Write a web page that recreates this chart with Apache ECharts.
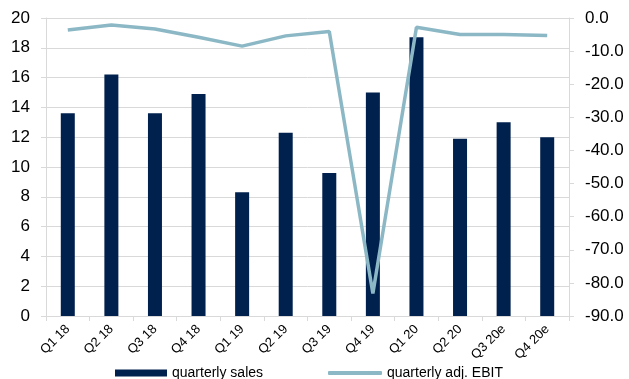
<!DOCTYPE html>
<html>
<head>
<meta charset="utf-8">
<script src="https://cdn.jsdelivr.net/npm/echarts@6/dist/echarts.min.js"></script>
<style>
  html, body { margin: 0; padding: 0; background: #fff; }
  #chart { width: 629px; height: 379px; }
</style>
</head>
<body>
<div id="chart"></div>
<script>
// Quarterly sales (left axis) and adjusted EBIT (right axis)
const quarters = ['Q1 18', 'Q2 18', 'Q3 18', 'Q4 18', 'Q1 19', 'Q2 19', 'Q3 19', 'Q4 19', 'Q1 20', 'Q2 20', 'Q3 20e', 'Q4 20e'];
const quarterlySales = [13.6, 16.2, 13.6, 14.9, 8.3, 12.3, 9.6, 15.0, 18.7, 11.9, 13.0, 12.0];
const quarterlyEbit = [-3.6, -2.1, -3.3, -5.8, -8.5, -5.4, -4.1, -83.2, -2.8, -5.0, -5.0, -5.3];
const salesTicks = { min: 0, max: 20, interval: 2 };
const ebitTicks = { min: -90, max: 0, interval: 10 };

const font = '"Liberation Sans", Arial, sans-serif';
const gridColor = '#d9d9d9';
const barColor = '#00204e';
const lineColor = '#8cb8c6';

const chart = echarts.init(document.getElementById('chart'));
chart.setOption({
  animation: false,
  grid: { left: 46, right: 60, top: 18, bottom: 63 },
  legend: [
    {
      data: ['quarterly sales'],
      left: 110, top: 361,
      itemWidth: 52, itemHeight: 7,
      textStyle: { fontFamily: font, fontSize: 14, color: '#000' },
      icon: 'rect'
    },
    {
      data: [{ name: 'quarterly adj. EBIT', itemStyle: { color: lineColor } }],
      left: 323, top: 361,
      itemWidth: 54, itemHeight: 4,
      textStyle: { fontFamily: font, fontSize: 14, color: '#000' },
      icon: 'roundRect'
    }
  ],
  xAxis: {
    type: 'category',
    data: quarters,
    boundaryGap: true,
    axisLine: { lineStyle: { color: gridColor, width: 1 } },
    axisTick: { show: true, length: 5, lineStyle: { color: gridColor } },
    axisLabel: { rotate: 45, fontFamily: font, fontSize: 13, color: '#000', margin: 11 }
  },
  yAxis: [
    {
      type: 'value',
      min: salesTicks.min, max: salesTicks.max, interval: salesTicks.interval,
      axisLine: { show: true, lineStyle: { color: gridColor } },
      axisTick: { show: true, length: 5, lineStyle: { color: gridColor } },
      splitLine: { lineStyle: { color: gridColor, width: 1 } },
      axisLabel: { fontFamily: font, fontSize: 17, color: '#000', margin: 16 }
    },
    {
      type: 'value',
      min: ebitTicks.min, max: ebitTicks.max, interval: ebitTicks.interval,
      position: 'right',
      axisLine: { show: true, lineStyle: { color: gridColor } },
      axisTick: { show: true, length: 5, lineStyle: { color: gridColor } },
      splitLine: { show: false },
      axisLabel: {
        fontFamily: font, fontSize: 17, color: '#000', margin: 16,
        formatter: v => v.toFixed(1)
      }
    }
  ],
  series: [
    {
      name: 'quarterly sales',
      type: 'bar',
      data: quarterlySales,
      yAxisIndex: 0,
      barWidth: 14,
      itemStyle: { color: barColor }
    },
    {
      name: 'quarterly adj. EBIT',
      type: 'line',
      data: quarterlyEbit,
      yAxisIndex: 1,
      symbol: 'none',
      lineStyle: { color: lineColor, width: 3.5 },
      itemStyle: { color: lineColor }
    }
  ]
});
</script>
</body>
</html>
